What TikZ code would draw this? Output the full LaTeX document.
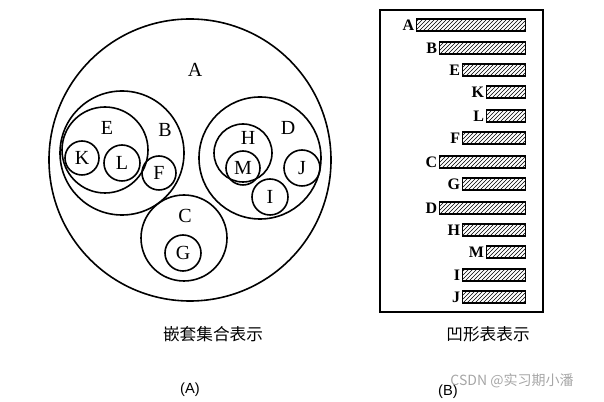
\documentclass[tikz,border=0pt]{standalone}
\usepackage{fontspec}
\setmainfont{Liberation Serif}
\newfontfamily\cjk{Noto Sans CJK SC}
\newfontfamily\sansf{Liberation Sans}
\usetikzlibrary{patterns}
\begin{document}
\begin{tikzpicture}[x=0.75pt,y=-0.75pt,
  set/.style={circle,draw,line width=1.2pt,minimum size=#1*0.75pt,inner sep=0pt},
  lab/.style={font=\fontsize{15}{15}\selectfont},
  bar/.style={draw,line width=1pt,pattern=north east lines,minimum height=9pt,inner sep=0pt,anchor=east},
  captxt/.style={font=\cjk\fontsize{12.5}{13}\selectfont}]
\useasboundingbox (0,0) rectangle (604,402);
\node[set=282] (A) at (190,160) {};
\node[set=124] (B) at (122,153) {};
\node[set=86] (E) at (105,150) {};
\node[set=34,lab] (K) at (82,158) {K};
\node[set=36,lab] (L) at (122,163) {L};
\node[set=34,lab] (F) at (159,173) {F};
\node[set=86] (C) at (184,238) {};
\node[set=36,lab] (G) at (183,253) {G};
\node[set=122] (D) at (260,158) {};
\node[set=58] (H) at (243,153) {};
\node[set=34,lab] (M) at (243,168) {M};
\node[set=36,lab] (I) at (270,197) {I};
\node[set=36,lab] (J) at (302,168) {J};
\node[lab] (la) at (195,70) {A};
\node[lab] (lb) at (165,130) {B};
\node[lab] (le) at (107,128) {E};
\node[lab] (lh) at (248,138) {H};
\node[lab] (ld) at (288,128) {D};
\node[lab] (lc) at (185,216) {C};
\draw[line width=1.2pt] (380,10) rectangle (543,312);
\foreach \n/\y/\l in {A/25/417,B/48/440,E/70/463,K/92/487,L/116/487,F/138/463,C/162/440,G/184/463,D/208/440,H/230/463,M/252/487,I/275/463,J/297/463}{
  \node[bar,minimum width={(526-\l)*0.75pt}] (b\n) at (526,\y) {};
  \node[anchor=east,inner sep=1pt,font=\bfseries\fontsize{12}{12}\selectfont] (t\n) at (b\n.west) {\n};
}
\node[captxt] (c1) at (213,334) {嵌套集合表示};
\node[captxt] (c2) at (488,334) {凹形表表示};
\node[font=\sansf\fontsize{11}{12}\selectfont] (pa) at (190,390) {(A)};
\node[font=\sansf\fontsize{11}{12}\selectfont] (pb) at (448,392) {(B)};
\node[font=\cjk\fontsize{10.5}{12}\selectfont,text=gray!70] (wm) at (512,381) {CSDN @实习期小潘};
\end{tikzpicture}
\end{document}
